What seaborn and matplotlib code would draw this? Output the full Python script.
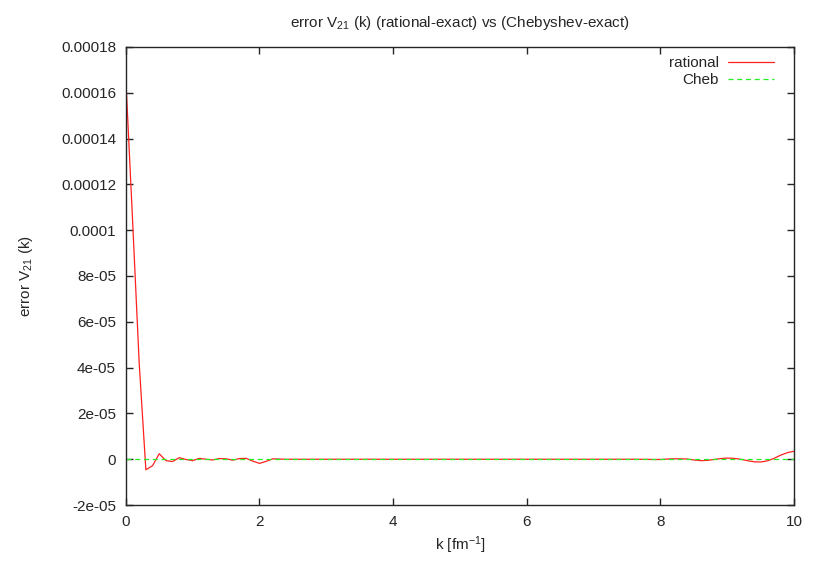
import numpy as np
import pandas as pd
import matplotlib
matplotlib.use("Agg")
import matplotlib.pyplot as plt
import seaborn as sns

# k grid [fm^-1] and errors
k = [round(0.1 * i, 1) for i in range(101)]

rational = [
    1.66e-4, 1.05e-4, 4.2e-5, -4.6e-6, -2.8e-6, 2.4e-6, -0.6e-6, -1.0e-6, 0.7e-6, -0.1e-6,   # 0.0 - 0.9
    -0.6e-6, 0.4e-6, 0.0, -0.3e-6, 0.3e-6, 0.2e-6, -0.4e-6, 0.3e-6, 0.4e-6, -0.8e-6,         # 1.0 - 1.9
    -1.8e-6, -0.9e-6, 0.2e-6, 0.1e-6, 0.0, 0.0, 0.0, 0.0, 0.0, 0.0,                          # 2.0 - 2.9
    0.0, 0.0, 0.0, 0.0, 0.0, 0.0, 0.0, 0.0, 0.0, 0.0,                                        # 3.0 - 3.9
    0.0, 0.0, 0.0, 0.0, 0.0, 0.0, 0.0, 0.0, 0.0, 0.0,                                        # 4.0 - 4.9
    0.0, 0.0, 0.0, 0.0, 0.0, 0.0, 0.0, 0.0, 0.0, 0.0,                                        # 5.0 - 5.9
    0.0, 0.0, 0.0, 0.0, 0.0, 0.0, 0.0, 0.0, 0.0, 0.0,                                        # 6.0 - 6.9
    0.0, 0.0, 0.0, 0.0, 0.0, 0.0, 0.0, 0.0, -0.05e-6, -0.1e-6,                               # 7.0 - 7.9
    -0.1e-6, 0.1e-6, 0.2e-6, 0.2e-6, 0.1e-6, -0.3e-6, -0.6e-6, -0.5e-6, -0.1e-6, 0.3e-6,     # 8.0 - 8.9
    0.5e-6, 0.4e-6, 0.0, -0.6e-6, -1.1e-6, -1.2e-6, -0.7e-6, 0.4e-6, 1.8e-6, 2.9e-6,         # 9.0 - 9.9
    3.5e-6,                                                                                  # 10.0
]
cheb = [0.0] * len(k)

yticks = [-2e-5, 0, 2e-5, 4e-5, 6e-5, 8e-5, 1e-4, 1.2e-4, 1.4e-4, 1.6e-4, 1.8e-4]
ytick_labels = ["-2e-05", "0", "2e-05", "4e-05", "6e-05", "8e-05", "0.0001",
                "0.00012", "0.00014", "0.00016", "0.00018"]
xticks = [0, 2, 4, 6, 8, 10]

df = pd.DataFrame({"k": k + k,
                   "err": rational + cheb,
                   "series": ["rational"] * len(k) + ["Cheb"] * len(k)})

sns.set_style("ticks")
plt.rcParams["font.family"] = ["Liberation Sans", "DejaVu Sans"]
plt.rcParams["mathtext.fontset"] = "custom"
plt.rcParams["mathtext.rm"] = "Liberation Sans"
plt.rcParams["mathtext.it"] = "Liberation Sans"

fs = 11
fig = plt.figure(figsize=(8.17, 5.72), dpi=100)
ax = fig.add_axes([0.154, 0.117, 0.818, 0.801])

sns.lineplot(data=df, x="k", y="err", hue="series", style="series",
             palette={"rational": "#ff2020", "Cheb": "#22ee22"},
             dashes={"rational": "", "Cheb": (4, 3)},
             lw=0.9, ax=ax)

ax.set_xlim(0, 10)
ax.set_ylim(-2e-5, 1.8e-4)
ax.set_xticks(xticks)
ax.set_xticklabels([str(t) for t in xticks])
ax.set_yticks(yticks)
ax.set_yticklabels(ytick_labels)
ax.tick_params(direction="in", top=True, right=True, labelsize=fs, length=5, width=1)
ax.tick_params(axis="y", pad=7)
ax.tick_params(axis="x", pad=7)
for s in ax.spines.values():
    s.set_linewidth(1)
    s.set_visible(True)

ax.set_xlabel("k [fm$^{-1}$]", fontsize=fs, labelpad=4)
ax.set_ylabel("error V$_{21}$ (k)", fontsize=fs, labelpad=19)
ax.set_title("error V$_{21}$ (k) (rational-exact) vs (Chebyshev-exact)", fontsize=fs, pad=14)

leg = ax.legend(loc="upper right", bbox_to_anchor=(0.970, 0.980), frameon=False,
                markerfirst=False, fontsize=fs, handlelength=3.0, handletextpad=0.6,
                labelspacing=0.2, borderaxespad=0, borderpad=0)
for t in leg.get_texts():
    t.set_ha("right")

fig.savefig("out.png", dpi=100)
